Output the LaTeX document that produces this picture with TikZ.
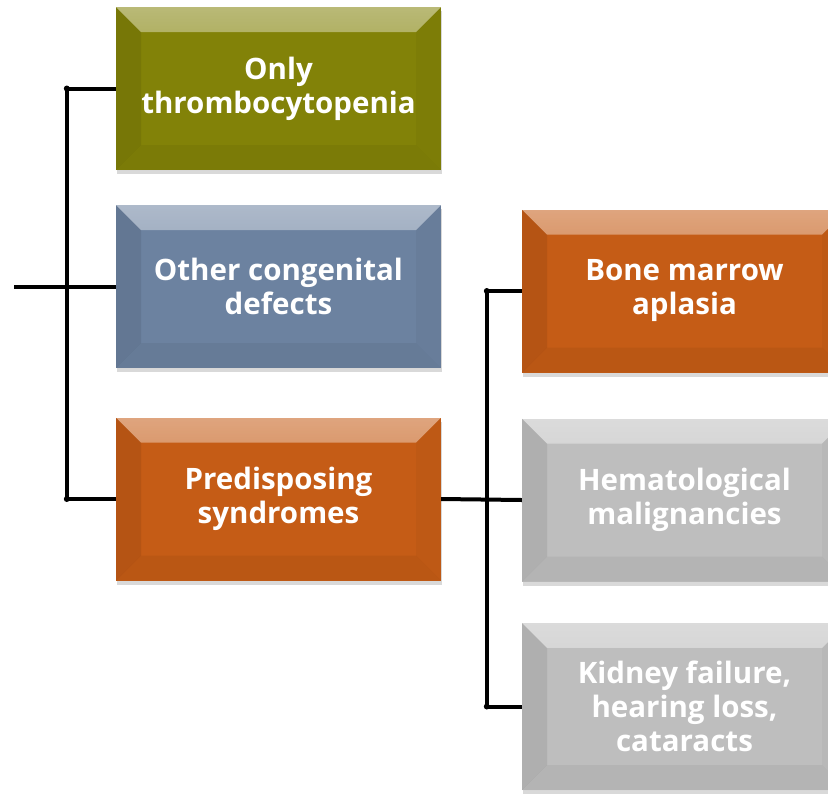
\documentclass[tikz,border=0pt]{standalone}
\usepackage{fontspec}
\newfontfamily\boxfont{Open Sans}
\usetikzlibrary{shadows,fadings}

\definecolor{olivebox}{RGB}{130,130,8}
\definecolor{bluebox}{RGB}{108,130,160}
\definecolor{orangebox}{RGB}{197,92,22}
\definecolor{graybox}{RGB}{190,190,190}

\tikzset{
  bevelbox/.style={fill=#1, minimum width=325pt, minimum height=163pt,
    inner sep=0pt, align=center, text=white,
    font={\boxfont\bfseries\fontsize{29.5}{34}\selectfont},
    drop shadow={shadow xshift=1pt, shadow yshift=-4pt, opacity=.3},
    path picture={
      \fill[white, opacity=.45, path fading=south] (path picture bounding box.north west)
        -- (path picture bounding box.north east)
        -- ([shift={(-25pt,-25pt)}]path picture bounding box.north east)
        -- ([shift={(25pt,-25pt)}]path picture bounding box.north west) -- cycle;
      \fill[black, opacity=.08] (path picture bounding box.north west)
        -- ([shift={(25pt,-25pt)}]path picture bounding box.north west)
        -- ([shift={(25pt,25pt)}]path picture bounding box.south west)
        -- (path picture bounding box.south west) -- cycle;
      \fill[black, opacity=.03] (path picture bounding box.north east)
        -- ([shift={(-25pt,-25pt)}]path picture bounding box.north east)
        -- ([shift={(-25pt,25pt)}]path picture bounding box.south east)
        -- (path picture bounding box.south east) -- cycle;
      \fill[black, opacity=.05] (path picture bounding box.south west)
        -- ([shift={(25pt,25pt)}]path picture bounding box.south west)
        -- ([shift={(-25pt,25pt)}]path picture bounding box.south east)
        -- (path picture bounding box.south east) -- cycle;
    }},
  conn/.style={line width=4pt, black}
}

\begin{document}
\begin{tikzpicture}[x=1pt, y=-1pt]
  \useasboundingbox (0,0) rectangle (828,796);
  \clip (0,0) rectangle (828,796);

  % left column
  \node[bevelbox=olivebox] (only) at (278.5,88.5) {Only\\thrombocytopenia};
  \node[bevelbox=bluebox] (other) at (278.5,286.5) {Other congenital\\defects};
  \node[bevelbox=orangebox] (predis) at (278.5,499) {Predisposing\\syndromes};

  % right column
  \node[bevelbox=orangebox] (marrow) at (684.5,291) {Bone marrow\\aplasia};
  \node[bevelbox=graybox] (malig) at (684.5,500) {Hematological\\malignancies};
  \node[bevelbox=graybox, minimum height=167pt] (kidney) at (684.5,706.5)
    {Kidney failure,\\hearing loss,\\cataracts};

  % connectors
  \coordinate (root) at (14,286.5);
  \draw[conn] (root) -- (other.west);
  \draw[conn] (only.west) -- ++(-49,0) coordinate (ltop)
    -- (ltop |- predis.west) coordinate (lbot) -- (predis.west);
  \draw[conn] (predis.east) -- (malig.west);
  \draw[conn] (marrow.west) -- ++(-35,0) coordinate (rtop)
    -- (rtop |- kidney.west) coordinate (rbot) -- (kidney.west);
  \foreach \p in {ltop,lbot,rtop,rbot}
    \fill (\p) circle (3pt);
\end{tikzpicture}
\end{document}
